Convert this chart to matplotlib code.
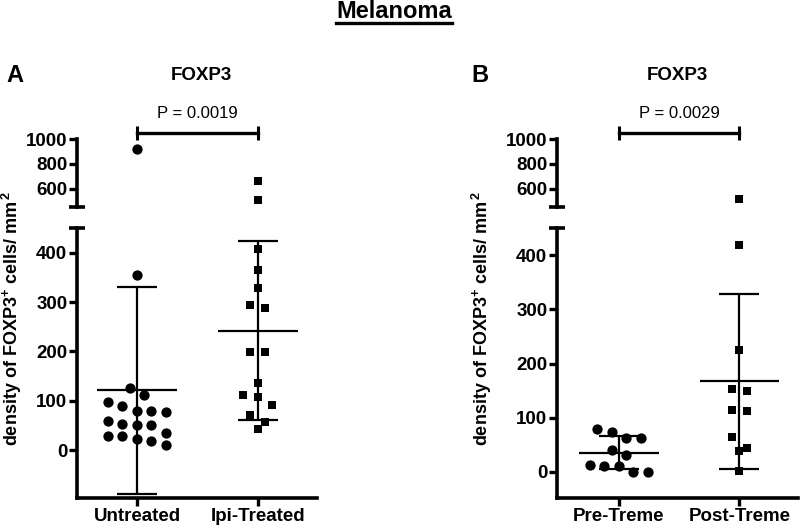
import numpy as np
import matplotlib
matplotlib.use("Agg")
import matplotlib.pyplot as plt
from matplotlib.lines import Line2D

plt.rcParams["font.family"] = ["Liberation Sans", "DejaVu Sans"]
plt.rcParams["font.weight"] = "bold"
plt.rcParams["mathtext.fontset"] = "custom"
plt.rcParams["mathtext.rm"] = "Liberation Sans:bold"
plt.rcParams["mathtext.it"] = "Liberation Sans:bold"
plt.rcParams["mathtext.bf"] = "Liberation Sans:bold"
plt.rcParams["mathtext.default"] = "rm"

# ---- data (cells / mm^2) ---------------------------------------------------- #
cats_a = ["Untreated", "Ipi-Treated"]
untreated = [920, 355, 126, 111, 97, 89, 79, 79, 77, 58, 53, 51, 50,
             35, 28, 28, 23, 19, 9.5]
ipi_treated = [666, 512, 408, 364, 328, 295, 288, 199, 198, 136,
               111, 107, 91, 72, 57, 43]
mean_a = [121, 242]
sd_a = [210, 181]
p_a = "P = 0.0019"

cats_b = ["Pre-Treme", "Post-Treme"]
pre_treme = [80, 74, 63, 62, 41, 31, 13.5, 11, 11, 0, 0]
post_treme = [516, 418, 225, 153, 149, 115, 113, 64, 45, 38, 1]
mean_b = [35.5, 167]
sd_b = [30, 162]
p_b = "P = 0.0029"

BREAK = 455          # axis break between lower and upper segment
W, H = 800, 529

fig = plt.figure(figsize=(W / 100, H / 100), dpi=100)


def px_axes(x0, x1, y0, y1):
    """axes from pixel box (top-left origin)"""
    return fig.add_axes([x0 / W, 1 - y1 / H, (x1 - x0) / W, (y1 - y0) / H])


def rows_scatter(ax, x0, vals, row_h=12, step=14.5):
    """GraphPad-like column scatter: points within row_h px share a row,
    spread symmetrically step px apart. Returns x in data units."""
    vals = np.asarray(vals, float)
    if len(vals) == 0:
        return vals, vals
    vals = np.sort(vals)[::-1]
    pts = ax.transData.transform(np.column_stack([np.full(len(vals), x0), vals]))
    xc, ys = pts[0, 0], pts[:, 1]
    xs = np.zeros(len(vals))
    start = 0
    for i in range(1, len(vals) + 1):
        if i == len(vals) or ys[start] - ys[i] > row_h:
            n = i - start
            xs[start:i] = (np.arange(n) - (n - 1) / 2) * step
            start = i
    inv = ax.transData.inverted()
    return inv.transform(np.column_stack([xc + xs, ys]))[:, 0], vals


def style(ax, bottom):
    for s in ("top", "right"):
        ax.spines[s].set_visible(False)
    ax.spines["left"].set_linewidth(2.6)
    ax.spines["bottom"].set_linewidth(2.6)
    ax.spines["bottom"].set_visible(bottom)
    ax.tick_params(width=2.4, length=6, labelsize=13.5, pad=1)
    for lab in ax.get_yticklabels() + ax.get_xticklabels():
        lab.set_fontweight("bold")
    if not bottom:
        ax.set_xticks([])


def panel(xl, xr, xlim, lo_min, cats, groups, mean, sd, ptxt, markers, sizes):
    top = px_axes(xl, xr, 139, 207)
    bot = px_axes(xl, xr, 228, 498)
    top.set_ylim(BREAK, 1000)
    bot.set_ylim(lo_min, 450)
    for ax in (top, bot):
        ax.set_xlim(*xlim)
        ax.patch.set_alpha(0)
    top.set_yticks([600, 800, 1000])
    bot.set_yticks([0, 100, 200, 300, 400])
    bot.set_xticks([0, 1])
    bot.set_xticklabels(cats)
    style(top, False)
    style(bot, True)

    # break caps on the y axis
    top.plot([0], [0], marker="_", ms=11, mew=2.6, color="k",
             transform=top.transAxes, clip_on=False)
    bot.plot([0], [1], marker="_", ms=11, mew=2.6, color="k",
             transform=bot.transAxes, clip_on=False)

    for i, vals in enumerate(groups):
        vals = np.asarray(vals, float)
        for ax, sel in ((top, vals > BREAK), (bot, vals <= BREAK)):
            xs, v = rows_scatter(ax, i, vals[sel])
            ax.plot(xs, v, ls="none", marker=markers[i], ms=sizes[i], color="k",
                    mew=0, clip_on=False, zorder=3)
        # mean +/- SD
        bot.errorbar(i, mean[i], yerr=sd[i], color="k", elinewidth=1.6,
                     capsize=14.5, capthick=1.6, zorder=2)
        bot.hlines(mean[i], i - 0.33, i + 0.33, color="k", lw=1.6, zorder=2)

    # significance bracket
    top.plot([0, 1], [1045, 1045], color="k", lw=2.4, clip_on=False,
             marker="|", ms=10, mew=2.2)
    top.annotate(ptxt, (0.5, 1045), xytext=(0, 14), textcoords="offset points",
                 ha="center", va="center", fontsize=12, fontweight="normal",
                 annotation_clip=False)
    return top, bot


panel(77, 316.7, (-0.497, 1.489), -97, cats_a, [untreated, ipi_treated],
      mean_a, sd_a, p_a, ["o", "s"], [7.4, 6.4])
panel(557, 798, (-0.515, 1.488), -48, cats_b, [pre_treme, post_treme],
      mean_b, sd_b, p_b, ["o", "s"], [7.4, 6.4])

ylab = r"density of FOXP3$^{+}$ cells/ mm$\,^{2}$"
fig.text(12 / W, 1 - 318 / H, ylab, rotation=90, ha="center", va="center",
         fontsize=13, fontweight="bold")
fig.text(482 / W, 1 - 318 / H, ylab, rotation=90, ha="center", va="center",
         fontsize=13, fontweight="bold")

fig.text(15 / W, 1 - 76 / H, "A", ha="center", va="center", fontsize=17, fontweight="bold")
fig.text(480 / W, 1 - 75 / H, "B", ha="center", va="center", fontsize=17, fontweight="bold")
fig.text(201 / W, 1 - 76 / H, "FOXP3", ha="center", va="center", fontsize=13.5, fontweight="bold")
fig.text(677 / W, 1 - 75 / H, "FOXP3", ha="center", va="center", fontsize=13.5, fontweight="bold")

title = fig.text(394 / W, 1 - 11 / H, "Melanoma", ha="center", va="center",
                 fontsize=17, fontweight="bold")
fig.canvas.draw()
bb = title.get_window_extent().transformed(fig.transFigure.inverted())
fig.add_artist(Line2D([bb.x0, bb.x1], [1 - 23 / H] * 2, color="k", lw=2.4,
                      transform=fig.transFigure))

fig.savefig("out.png", dpi=100)
